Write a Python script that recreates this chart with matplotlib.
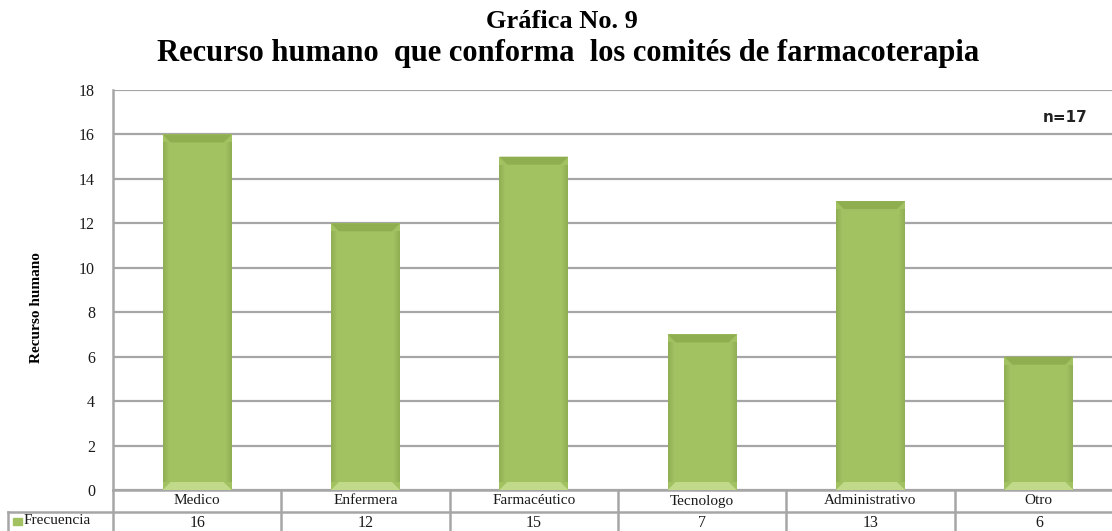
"""
plot.py - Gráfica No. 9: recurso humano que conforma los comités de farmacoterapia.
"""

import matplotlib

matplotlib.use("Agg")
import matplotlib.pyplot as plt
from matplotlib.patches import Polygon, Rectangle

categories = ["Medico", "Enfermera", "Farmacéutico", "Tecnologo", "Administrativo", "Otro"]
frecuencia = [16, 12, 15, 7, 13, 6]
y_ticks = [0, 2, 4, 6, 8, 10, 12, 14, 16, 18]
series_label = "Frecuencia"
n_label = "n=17"

W, H = 1112, 531
GREEN = "#a2c262"
GREEN_DARK = "#8fae50"
GREEN_LIGHT = "#c0da8a"
GRID = "#a6a6a6"
TXT = "#1a1a1a"
SERIF = ["Liberation Serif", "DejaVu Serif"]

fig = plt.figure(figsize=(W / 100, H / 100), dpi=100)
# plot area: left 113 px, top 90 px, bottom 490 px; runs past the right edge
ax = fig.add_axes([113 / W, (H - 490) / H, 1010 / W, 400 / H])

x = list(range(len(categories)))
bar_w = 0.41
ax.bar(x, frecuencia, width=bar_w, color=GREEN, zorder=3)

# bevel look: darker rim on top / sides, lighter facet at the bottom
px_x = 1 / 168.3
px_y = 18 / 400
for xi, v in zip(x, frecuencia):
    l, r = xi - bar_w / 2, xi + bar_w / 2
    b = 8 * px_x
    by = 8 * px_y
    ax.add_patch(Polygon([(l, v), (r, v), (r - b, v - by), (l + b, v - by)],
                         closed=True, color=GREEN_DARK, lw=0, zorder=4))
    ax.add_patch(Polygon([(l, 0), (r, 0), (r - b, by), (l + b, by)],
                         closed=True, color=GREEN_LIGHT, lw=0, zorder=4))
    for k in range(6):
        a = 0.35 * (1 - k / 6)
        ax.add_patch(Rectangle((l + k * px_x, by), px_x, v - 2 * by, color="#6f8c3a",
                               lw=0, zorder=4, alpha=a))
        ax.add_patch(Rectangle((r - (k + 1) * px_x, by), px_x, v - 2 * by, color="#6f8c3a",
                               lw=0, zorder=4, alpha=a))

ax.set_xlim(-0.5, len(categories) - 0.5)
ax.set_ylim(0, 18)
ax.set_yticks(y_ticks)
ax.set_xticks([])
ax.tick_params(axis="y", length=0, pad=13, labelsize=11.5, labelcolor=TXT)
for lab in ax.get_yticklabels():
    lab.set_fontfamily(SERIF)
ax.yaxis.grid(True, color=GRID, lw=1.6, zorder=1)
ax.set_axisbelow(True)
for side in ("top", "right", "bottom"):
    ax.spines[side].set_visible(False)
ax.spines["left"].set_color(GRID)
ax.spines["left"].set_linewidth(1.8)

ax.set_ylabel("Recurso humano", fontfamily=SERIF, fontweight="bold", fontsize=11)
ax.yaxis.set_label_coords(-0.069, 0.455)

ax.text(1088 / W, (H - 118) / H, n_label, transform=fig.transFigure, ha="right",
        va="center", fontsize=11, fontweight="bold", fontfamily="DejaVu Sans",
        color="#222222")

# data table under the axis
row_h = 22 / 400
left_edge = (8 - 113) / 1010
ncol = len(categories)
tx = ax.transAxes
line_kw = dict(color=GRID, lw=1.8, transform=tx, clip_on=False)
ax.plot([0, 1.2], [0, 0], **line_kw)
ax.plot([left_edge, 1.2], [-row_h, -row_h], **line_kw)
ax.plot([left_edge, left_edge], [-row_h, -2.2 * row_h], **line_kw)
for i in range(ncol + 1):
    ax.plot([i / ncol, i / ncol], [0, -2.2 * row_h], **line_kw)

xt = ax.get_xaxis_transform()
for xi, cat, v in zip(x, categories, frecuencia):
    ax.text(xi, -row_h / 2, cat, transform=xt, ha="center", va="center",
            fontfamily=SERIF, fontsize=11, color=TXT, clip_on=False)
    ax.text(xi, -1.5 * row_h, str(v), transform=xt, ha="center", va="center",
            fontfamily=SERIF, fontsize=11.5, color=TXT, clip_on=False)

fig.patches.append(Rectangle((13 / W, (H - 525) / H), 9 / W, 7 / H,
                             transform=fig.transFigure, color=GREEN))
fig.text(24 / W, (H - 521) / H, series_label, ha="left", va="center",
         fontfamily=SERIF, fontsize=11, color=TXT)

fig.text(562 / W, (H - 21) / H, "Gráfica No. 9", ha="center", va="center",
         fontfamily=SERIF, fontweight="bold", fontsize=19)
fig.text(568 / W, (H - 53) / H,
         "Recurso humano  que conforma  los comités de farmacoterapia",
         ha="center", va="center", fontfamily=SERIF, fontweight="bold", fontsize=22)

fig.savefig("out.png", dpi=100)
